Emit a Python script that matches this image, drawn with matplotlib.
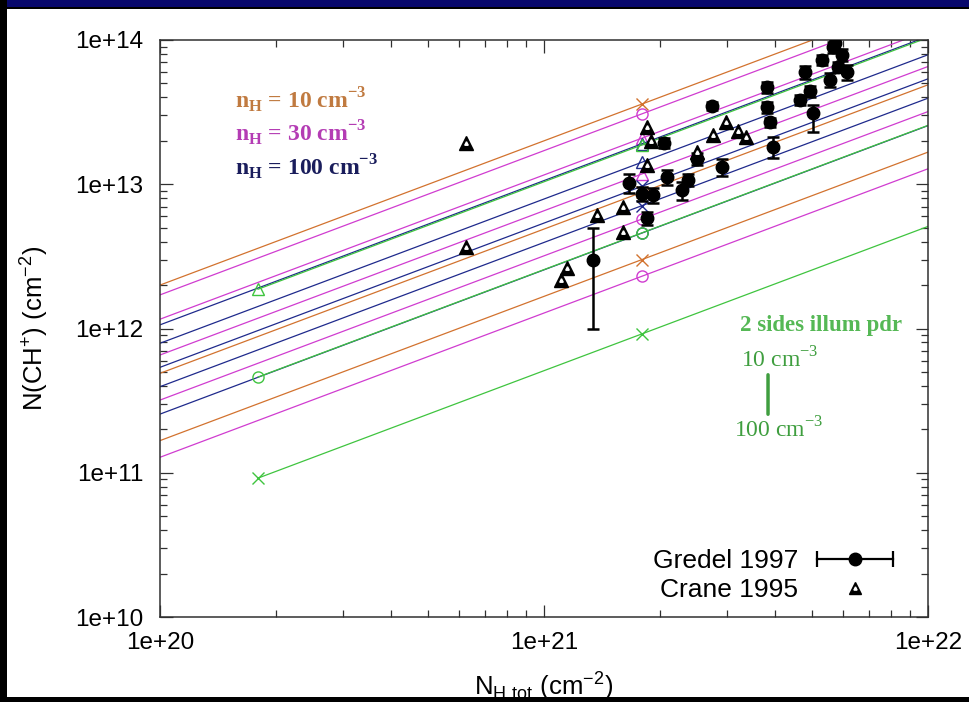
import numpy as np
import matplotlib
matplotlib.use("Agg")
import matplotlib.pyplot as plt
from matplotlib.patches import Rectangle
from matplotlib.lines import Line2D
from matplotlib.legend_handler import HandlerLine2D
from matplotlib.ticker import LogLocator, FuncFormatter, NullFormatter

plt.rcParams["font.family"] = ["Liberation Sans", "DejaVu Sans"]

# ---- PDR model lines: N(CH+) = ratio * N_H  (slope 1 in log-log) ----------------
MODEL_X = [1e20, 1.8e21, 1e22]          # marker sits on the middle point
GREEN_X = [1.8e20, 1.8e21, 1e22]        # 2-sides illuminated models start at 1.8e20
orange_ratio = [2.0e-8, 4.89e-9, 1.67e-9]                    # nH = 10 cm-3
orange_mark = ["x", "x", "x"]
magenta_ratio = [1.71e-8, 1.16e-8, 6.55e-9, 3.19e-9, 1.28e-9]  # nH = 30 cm-3
magenta_mark = ["o", "^", "^", "o", "o"]
navy_ratio = [1.06e-8, 7.9e-9, 5.38e-9, 3.95e-9, 2.55e-9]      # nH = 100 cm-3
navy_mark = ["^", "^", "x", "x", "o"]
green_ratio = [1.04e-8, 2.56e-9, 5.1e-10]                      # 2 sides illum pdr
green_mark = ["^", "o", "x"]

# ---- observations ----------------------------------------------------------------
# Gredel 1997 (N_H in 1e21, N(CH+) in 1e13, asymmetric errors in 1e13)
gredel_nh = [1.34, 1.66, 1.80, 1.92, 2.09, 2.29, 2.37, 2.50, 2.91, 2.74, 3.81, 3.81, 3.88,
             3.95, 4.64, 4.78, 4.93, 5.02, 5.30, 5.66, 5.97, 5.56, 6.15, 5.83, 5.73, 1.85, 2.05]
gredel_ch = [0.30, 1.02, 0.86, 0.84, 1.12, 0.91, 1.07, 1.50, 1.32, 3.49, 4.70, 3.43, 2.70,
             1.81, 3.84, 6.00, 4.40, 3.12, 7.30, 8.90, 7.90, 5.30, 6.00, 6.50, 9.50, 0.58, 1.93]
gredel_lo = [0.20, 0.15, 0.10, 0.10, 0.13, 0.13, 0.10, 0.15, 0.18, 0.20, 0.40, 0.30, 0.20,
             0.30, 0.30, 0.60, 0.40, 0.80, 0.60, 0.80, 0.70, 0.60, 0.70, 0.50, 0.80, 0.06, 0.15]
gredel_hi = [0.20, 0.15, 0.10, 0.10, 0.13, 0.13, 0.10, 0.15, 0.18, 0.20, 0.40, 0.30, 0.20,
             0.30, 0.30, 0.60, 0.40, 0.40, 0.60, 0.80, 0.70, 0.60, 0.70, 0.50, 0.80, 0.06, 0.15]
# Crane 1995
crane_nh = [0.626, 0.626, 1.11, 1.15, 1.37, 1.61, 1.61, 1.85, 1.90, 1.85, 2.50, 2.75, 2.98, 3.20, 3.35]
crane_ch = [1.93, 0.365, 0.217, 0.263, 0.612, 0.70, 0.467, 2.50, 2.00, 1.36, 1.67, 2.19, 2.68, 2.35, 2.13]

C_OR, C_MA, C_NA, C_GR = "#d2722e", "#d03cd0", "#1f2a8c", "#3fc43f"

W, H = 970, 702
fig = plt.figure(figsize=(W / 100, H / 100), dpi=100, facecolor="black")
fig.add_artist(Rectangle((7 / W, 5 / H), 1, 688 / H, transform=fig.transFigure,
                         facecolor="white", edgecolor="none", zorder=-1))
fig.add_artist(Rectangle((0, 1 - 7 / H), 1, 7 / H, transform=fig.transFigure,
                         facecolor="#08086c", edgecolor="none", zorder=-1))
ax = fig.add_axes([160 / W, 85 / H, 768 / W, 577 / H])
# black strips drawn above the axes: they crop the x label like the original grab
fig.add_artist(Rectangle((0, 0), 1, 5 / H, transform=fig.transFigure,
                         facecolor="black", edgecolor="none", zorder=10))
fig.add_artist(Rectangle((0, 0), 7 / W, 1, transform=fig.transFigure,
                         facecolor="black", edgecolor="none", zorder=10))

ax.set_xscale("log"); ax.set_yscale("log")
ax.set_xlim(1e20, 1e22); ax.set_ylim(1e10, 1e14)

def model(xs, ratios, marks, col, every):
    xs = np.array(xs)
    for r, m in zip(ratios, marks):
        ax.plot(xs, r * xs, color=col, lw=0.9, marker=m, markevery=every, ms=8,
                mfc="none", mec=col, mew=1.0, zorder=2)

model(MODEL_X, orange_ratio, orange_mark, C_OR, [1])
model(MODEL_X, magenta_ratio, magenta_mark, C_MA, [1])
model(MODEL_X, navy_ratio, navy_mark, C_NA, [1])
model(GREEN_X, green_ratio, green_mark, C_GR, [0, 1])

gx = np.array(gredel_nh) * 1e21
gy = np.array(gredel_ch) * 1e13
gerr = np.array([gredel_lo, gredel_hi]) * 1e13
ax.errorbar(gx, gy, yerr=gerr, fmt="o", color="black", ms=9, elinewidth=1.8,
            capsize=4.5, capthick=1.8, zorder=4)
cx = np.array(crane_nh) * 1e21
cy = np.array(crane_ch) * 1e13
ax.plot(cx, cy, ls="none", marker="^", color="black", ms=10, zorder=4)
ax.plot(cx, cy, ls="none", marker="^", color="white", ms=2.5, zorder=5)

# ---- axes styling -----------------------------------------------------------------
fmt = FuncFormatter(lambda v, p: f"1e+{int(round(np.log10(v)))}")
for axis in (ax.xaxis, ax.yaxis):
    axis.set_major_locator(LogLocator(base=10, numticks=10))
    axis.set_minor_locator(LogLocator(base=10, subs=np.arange(2, 10), numticks=20))
    axis.set_major_formatter(fmt)
    axis.set_minor_formatter(NullFormatter())
ax.tick_params(which="both", direction="in", top=True, right=True, width=0.9,
               color="#303030", labelsize=17.5)
ax.tick_params(which="major", length=9)
ax.tick_params(which="minor", length=5)
ax.tick_params(axis="x", pad=11)
ax.tick_params(axis="y", pad=12)
for s in ax.spines.values():
    s.set_linewidth(1.1); s.set_color("#303030")

ax.set_xlabel(r"N$_\mathregular{H\ tot}$ (cm$^\mathregular{-2}$)", fontsize=18.5, va="top")
ax.xaxis.set_label_coords(0.5, -0.091)
ax.set_ylabel(r"N(CH$^\mathregular{+}$) (cm$^\mathregular{-2}$)", fontsize=18.5)
ax.yaxis.set_label_coords(-0.143, 0.5)

# ---- density annotations ------------------------------------------------------------
serif = ["Liberation Serif", "DejaVu Serif"]
for yy, txt, col in [(0.896, "10", "#c07a40"), (0.839, "30", "#b43cb4"), (0.780, "100", "#1a1d5c")]:
    ax.text(0.098, yy, "n$_\\mathregular{H}$ = " + txt + " cm$^\\mathregular{-3}$",
            transform=ax.transAxes, family=serif, fontsize=17, fontweight="bold",
            color=col, ha="left", va="center")

ax.text(0.755, 0.506, "2 sides illum pdr", transform=ax.transAxes, family=serif,
        fontsize=16.5, fontweight="bold", color="#55b855", ha="left", va="center")
ax.text(0.807, 0.445, "10 cm$^\\mathregular{-3}$", transform=ax.transAxes, family=serif,
        fontsize=17, color="#3f9e3f", ha="center", va="center")
ax.text(0.806, 0.324, "100 cm$^\\mathregular{-3}$", transform=ax.transAxes, family=serif,
        fontsize=17, color="#3f9e3f", ha="center", va="center")
ax.annotate("", xy=(0.7917, 0.3466), xytext=(0.7917, 0.4246), xycoords="axes fraction",
            arrowprops=dict(arrowstyle="-", color="#3f9e3f", lw=2.5))

# ---- legend ----------------------------------------------------------------------------
# horizontal error bar key: a capped line (caps at both ends) under a filled dot
g_bar = Line2D([], [], color="black", lw=1.6, marker="|", ms=11, mew=1.6)
g_dot = Line2D([], [], ls="none", marker="o", color="black", ms=9)
h_crane = (Line2D([], [], ls="none", marker="^", color="black", ms=9),
           Line2D([], [], ls="none", marker="^", color="white", ms=2.3))
ax.legend([(g_bar, g_dot), h_crane], ["Gredel 1997", "Crane 1995"], loc="lower right",
          bbox_to_anchor=(1 - 24 / 768, 4 / 577), borderaxespad=0,
          markerfirst=False, frameon=False, fontsize=19, handlelength=2.9,
          handletextpad=0.7, labelspacing=0.2, numpoints=1,
          handler_map={g_bar: HandlerLine2D(numpoints=2, marker_pad=0)})

fig.savefig("out.png", dpi=100, facecolor=fig.get_facecolor())
